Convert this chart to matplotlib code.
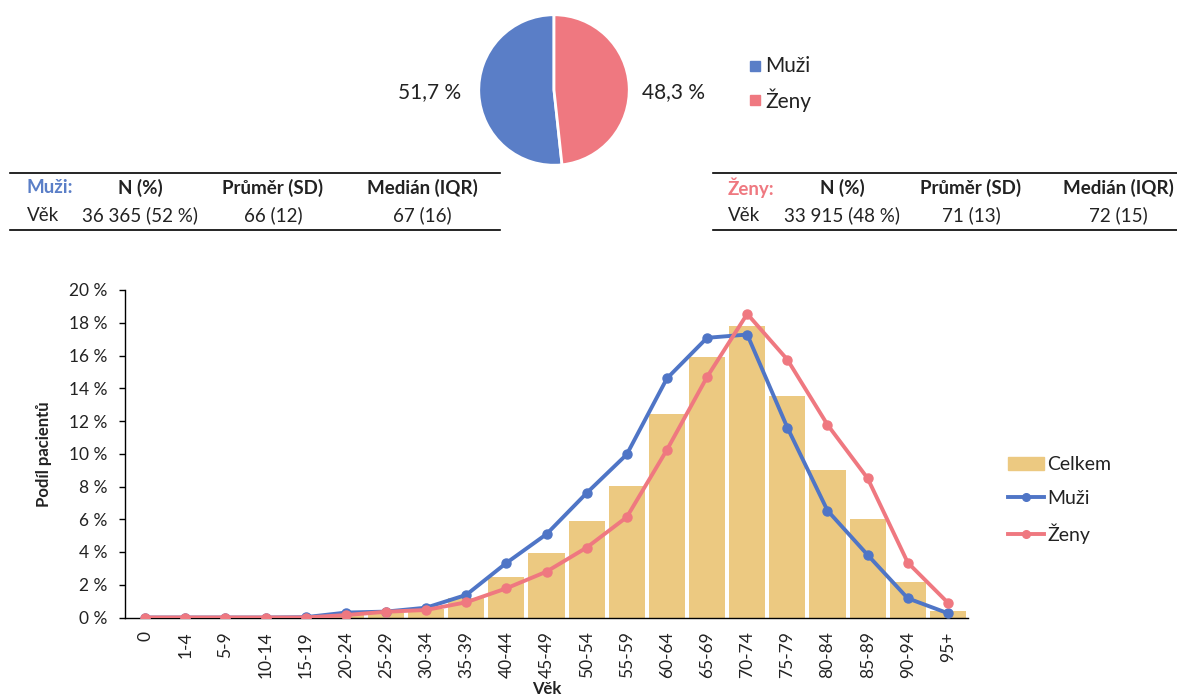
import matplotlib
matplotlib.use("Agg")
import matplotlib.pyplot as plt
from matplotlib.lines import Line2D
from matplotlib.patches import Patch
import numpy as np

# ---------------- data ----------------
age_groups = ["0", "1-4", "5-9", "10-14", "15-19", "20-24", "25-29", "30-34", "35-39",
              "40-44", "45-49", "50-54", "55-59", "60-64", "65-69", "70-74", "75-79",
              "80-84", "85-89", "90-94", "95+"]
celkem = [0.0, 0.0, 0.0, 0.0, 0.05, 0.2, 0.3, 0.5, 1.17, 2.5, 3.93, 5.92, 8.06, 12.4,
          15.9, 17.8, 13.5, 9.0, 6.0, 2.17, 0.42]
muzi = [0.0, 0.0, 0.0, 0.0, 0.02, 0.3, 0.36, 0.6, 1.38, 3.33, 5.09, 7.6, 9.96, 14.6,
        17.08, 17.28, 11.6, 6.53, 3.82, 1.17, 0.26]
zeny = [0.0, 0.0, 0.0, 0.0, 0.0, 0.15, 0.35, 0.46, 0.93, 1.78, 2.8, 4.27, 6.13, 10.24,
        14.69, 18.54, 15.75, 11.77, 8.5, 3.35, 0.9]
y_ticks = [0, 2, 4, 6, 8, 10, 12, 14, 16, 18, 20]

pie_labels = ["Muži", "Ženy"]
pie_values = [51.7, 48.3]
pie_texts = ["51,7 %", "48,3 %"]

table_header = ["N (%)", "Průměr (SD)", "Medián (IQR)"]
muzi_row = ["36 365 (52 %)", "66 (12)", "67 (16)"]
zeny_row = ["33 915 (48 %)", "71 (13)", "72 (15)"]

# ---------------- style ----------------
BLUE = "#4F75C6"
PIE_BLUE = "#5A7EC7"
RED = "#EF7880"
GOLD = "#ECC981"
FONT = ["Lato", "DejaVu Sans"]
plt.rcParams["font.family"] = FONT
TXT = "#222222"

W, H = 1177, 699
fig = plt.figure(figsize=(W / 100, H / 100), dpi=100)


def fx(px):
    return px / W


def fy(py):
    return 1 - py / H


# ---------------- pie ----------------
cx, cy, r = 554, 90, 76
pax = fig.add_axes([fx(cx - r), fy(cy + r), fx(2 * r), 2 * r / H])
pax.pie(pie_values, colors=[PIE_BLUE, RED], startangle=90, counterclock=True,
        wedgeprops=dict(edgecolor="white", linewidth=2))
pax.set_xlim(-1.01, 1.01)
pax.set_ylim(-1.01, 1.01)
pax.set_aspect("equal")
pax.axis("off")
fig.text(fx(430), fy(92), pie_texts[0], ha="center", va="center", fontsize=15,
         color=TXT)
fig.text(fx(673), fy(92), pie_texts[1], ha="center", va="center", fontsize=15,
         color=TXT)
for i, (lab, col) in enumerate(zip(pie_labels, [PIE_BLUE, RED])):
    yy = 66 + i * 34
    fig.patches.append(plt.Rectangle((fx(750), fy(yy + 5)), fx(10), 10 / H,
                                     transform=fig.transFigure, color=col))
    fig.text(fx(765), fy(yy), lab, ha="left", va="center", fontsize=15, color=TXT)

# ---------------- tables ----------------
TFS = 13.5


def draw_table(x0, x1, title, title_color, row, centers, name_x):
    fig.add_artist(Line2D([fx(x0), fx(x1)], [fy(173), fy(173)], color="black",
                          lw=1.2, transform=fig.transFigure))
    fig.add_artist(Line2D([fx(x0), fx(x1)], [fy(230), fy(230)], color="black",
                          lw=1.2, transform=fig.transFigure))
    fig.text(fx(name_x), fy(188), title, color=title_color, fontweight="bold",
             ha="left", va="center", fontsize=TFS)
    for c, h in zip(centers, table_header):
        fig.text(fx(c), fy(188), h, fontweight="bold", ha="center", va="center",
                 fontsize=TFS, color=TXT)
    fig.text(fx(name_x), fy(215), "Věk", ha="left", va="center", fontsize=TFS,
             color=TXT)
    for c, v in zip(centers, row):
        fig.text(fx(c), fy(215), v, ha="center", va="center", fontsize=TFS,
                 color=TXT)


draw_table(10, 500, "Muži:", PIE_BLUE, muzi_row, [140, 273, 422], 27)
draw_table(713, 1177, "Ženy:", RED, zeny_row, [842, 971, 1118], 728)

# ---------------- main chart ----------------
ax = fig.add_axes([fx(125), fy(617.5), fx(968 - 125), (617.5 - 290) / H])
x = np.arange(len(age_groups))
ax.bar(x, celkem, width=0.9, color=GOLD, label="Celkem", zorder=1)
ax.plot(x, muzi, color=BLUE, lw=2.8, marker="o", ms=6.5, label="Muži", zorder=3)
ax.plot(x, zeny, color=RED, lw=2.8, marker="o", ms=6.5, label="Ženy", zorder=4)
ax.set_xlim(-0.5, len(age_groups) - 0.5)
ax.set_ylim(0, 20)
ax.set_yticks(y_ticks)
ax.set_yticklabels([f"{t} %" for t in y_ticks], fontsize=12.5, color=TXT)
ax.set_xticks(x)
ax.set_xticklabels(age_groups, rotation=90, fontsize=12.5, color=TXT)
ax.tick_params(axis="x", length=0, pad=10)
ax.tick_params(axis="y", length=4.5, direction="out", width=1, pad=8)
for s in ["top", "right"]:
    ax.spines[s].set_visible(False)
for s in ["left", "bottom"]:
    ax.spines[s].set_color("black")
    ax.spines[s].set_linewidth(1.0)
ax.set_ylabel("Podíl pacientů", fontweight="bold", fontsize=12, labelpad=12,
              color=TXT)
ax.set_xlabel("Věk", fontweight="bold", fontsize=12, labelpad=2, color=TXT)

handles = [Patch(color=GOLD, label="Celkem"),
           Line2D([], [], color=BLUE, lw=2.8, marker="o", ms=5.5, label="Muži"),
           Line2D([], [], color=RED, lw=2.8, marker="o", ms=5.5, label="Ženy")]
leg = fig.legend(handles=handles, loc="center left",
                 bbox_to_anchor=(fx(990), fy(500)), frameon=False,
                 prop=dict(size=14), handlelength=1.9, handleheight=0.6,
                 labelspacing=0.85, handletextpad=0.15)
for t in leg.get_texts():
    t.set_color(TXT)

fig.savefig("out.png", dpi=100)
